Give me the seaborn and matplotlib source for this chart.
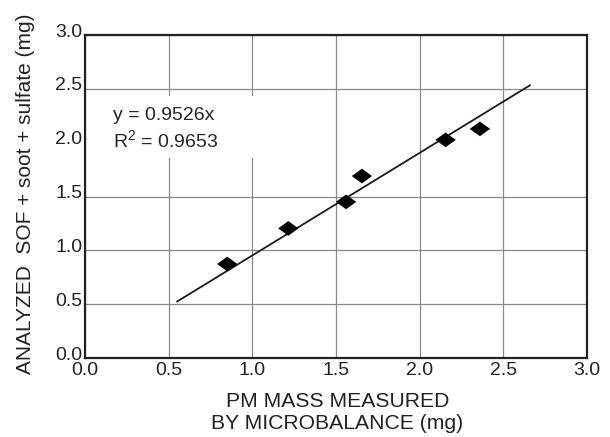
import numpy as np
import pandas as pd
import matplotlib
matplotlib.use("Agg")
import matplotlib.pyplot as plt
import matplotlib.transforms as mtransforms
from matplotlib.path import Path
from matplotlib.patches import Rectangle
import seaborn as sns

# ---- data ----
pm_mass = [0.85, 1.215, 1.56, 1.655, 2.155, 2.36]
analyzed = [0.873, 1.204, 1.45, 1.69, 2.026, 2.128]
fit_slope = 0.9526
fit_r2 = 0.9653
fit_x = [0.55, 2.66]
tick_values = [0.0, 0.5, 1.0, 1.5, 2.0, 2.5, 3.0]
tick_labels = ["0.0", "0.5", "1.0", "1.5", "2.0", "2.5", "3.0"]
x_label = "PM MASS MEASURED\nBY MICROBALANCE (mg)"
y_label = "ANALYZED  SOF + soot + sulfate (mg)"

df = pd.DataFrame({"pm": pm_mass, "an": analyzed})
fit_df = pd.DataFrame({"x": fit_x, "y": [fit_slope * v for v in fit_x]})

sns.set_style("white")
plt.rcParams["font.family"] = ["Liberation Sans", "DejaVu Sans"]
plt.rcParams["mathtext.fontset"] = "custom"
plt.rcParams["mathtext.rm"] = "Liberation Sans"
plt.rcParams["mathtext.it"] = "Liberation Sans"

fig = plt.figure(figsize=(6.1, 4.37), dpi=100)
ax = fig.add_axes([85 / 610, 1 - 358 / 437, 502 / 610, 323 / 437])

ax.set_xlim(0, 3.0)
ax.set_ylim(0, 3.0)
ax.set_xticks(tick_values)
ax.set_xticklabels(tick_labels)
ax.set_yticks(tick_values)
ax.set_yticklabels(tick_labels)
ax.set_axisbelow(True)
ax.grid(True, color="#8a8a8a", linewidth=0.9)
# the 2.0 horizontal gridline is absent in the reference
for val, gl in zip(tick_values, ax.yaxis.get_gridlines()):
    if val == 2.0:
        gl.set_visible(False)

# white area behind the equation text
ax.add_patch(Rectangle((0.05, 1.86), 1.25, 0.57, facecolor="white",
                       edgecolor="none", zorder=1))

sns.lineplot(data=fit_df, x="x", y="y", ax=ax, color="#1a1a1a",
             linewidth=1.3, zorder=2)

diamond = Path([(-1, 0), (0, 0.72), (1, 0), (0, -0.72), (-1, 0)],
               [Path.MOVETO, Path.LINETO, Path.LINETO, Path.LINETO, Path.CLOSEPOLY])
sns.scatterplot(data=df, x="pm", y="an", ax=ax, marker=diamond, s=215,
                color="black", edgecolor="none", zorder=3)

ax.text(0.165, 2.255, f"y = {fit_slope}x", fontsize=14, va="center", zorder=4)
ax.text(0.165, 2.02, r"R$^{\mathrm{2}}$" + f" = {fit_r2}", fontsize=14,
        va="center", zorder=4)

ax.tick_params(length=0, labelsize=14, pad=2, colors="#222222")
ax.tick_params(axis="x", pad=3)
for lab in ax.get_yticklabels():
    lab.set_transform(lab.get_transform() +
                      mtransforms.ScaledTranslation(0, 5 / 100, fig.dpi_scale_trans))

for sp in ax.spines.values():
    sp.set_visible(True)
    sp.set_color("#222222")
    sp.set_linewidth(1.6)

ax.set_xlabel(x_label, fontsize=15.2, linespacing=1.22, color="#222222")
ax.set_ylabel(y_label, fontsize=15, color="#222222")
ax.xaxis.set_label_coords(0.503, -0.104)
ax.yaxis.set_label_coords(-0.099, 0.51)
ax.xaxis.label.set_va("top")

fig.savefig("out.png", dpi=100)
